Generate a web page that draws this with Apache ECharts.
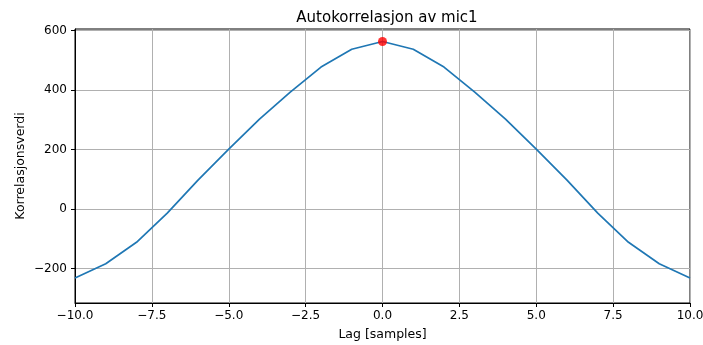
<!DOCTYPE html>
<html>
<head>
<meta charset="utf-8">
<script src="https://cdn.jsdelivr.net/npm/echarts@6/dist/echarts.min.js"></script>
<style>
  html, body { margin: 0; padding: 0; background: #fff; }
  #chart { width: 703px; height: 345px; }
</style>
</head>
<body>
<div id="chart"></div>
<script>
// Autocorrelation of mic1, integer lags -10..10
const lags = [-10, -9, -8, -7, -6, -5, -4, -3, -2, -1, 0, 1, 2, 3, 4, 5, 6, 7, 8, 9, 10];
const corrValues = [-232, -184, -112, -14, 97, 201, 302, 393, 477, 537, 563, 537, 477, 393, 302, 201, 97, -14, -112, -184, -232];
const peakLag = 0;
const peakValue = 563;
const yTicks = [-200, 0, 200, 400, 600];

const FONT = 'DejaVu Sans';
const fmtMinus = (v, d) => {
  const s = Math.abs(v).toFixed(d);
  return (v < 0 ? '\u2212' : '') + s;
};

const chart = echarts.init(document.getElementById('chart'), null, { renderer: 'canvas' });
chart.setOption({
  animation: false,
  backgroundColor: '#fff',
  title: {
    text: 'Autokorrelasjon av mic1',
    left: 382, top: 6, textAlign: 'center',
    textStyle: { fontFamily: FONT, fontSize: 15, fontWeight: 'normal', color: '#000' }
  },
  grid: {
    left: 75, right: 13, top: 29, bottom: 42,
    outerBoundsMode: 'none',
    show: true, borderColor: '#000', borderWidth: 1, backgroundColor: 'transparent'
  },
  xAxis: {
    type: 'value', min: -10, max: 10, interval: 2.5,
    name: 'Lag [samples]', nameLocation: 'middle', nameGap: 25,
    nameMoveOverlap: false,
    nameTextStyle: { fontFamily: FONT, fontSize: 12.5, color: '#000' },
    axisLine: { show: true, onZero: false, lineStyle: { color: '#000', width: 1 } },
    axisTick: { show: true, length: 4, lineStyle: { color: '#000', width: 1 } },
    axisLabel: { fontFamily: FONT, fontSize: 12, color: '#000', margin: 7,
                 formatter: v => fmtMinus(v, 1) },
    splitLine: { show: true, lineStyle: { color: '#b0b0b0', width: 1 } }
  },
  yAxis: {
    type: 'value', min: -316, max: 605,
    name: 'Korrelasjonsverdi', nameLocation: 'middle', nameGap: 48,
    nameMoveOverlap: false,
    nameTextStyle: { fontFamily: FONT, fontSize: 12.5, color: '#000' },
    axisLine: { show: true, onZero: false, lineStyle: { color: '#000', width: 1 } },
    axisTick: { show: true, length: 4, customValues: yTicks, lineStyle: { color: '#000', width: 1 } },
    axisLabel: { fontFamily: FONT, fontSize: 12, color: '#000', margin: 8,
                 customValues: yTicks, formatter: v => fmtMinus(v, 0) },
    splitLine: { show: true, lineStyle: { color: '#b0b0b0', width: 1 } }
  },
  series: [
    {
      type: 'line',
      data: lags.map((l, i) => [l, corrValues[i]]),
      showSymbol: false,
      lineStyle: { color: '#1f77b4', width: 1.7 },
      z: 2
    },
    {
      type: 'scatter',
      data: [[peakLag, peakValue]],
      symbolSize: 9,
      itemStyle: { color: '#ff0000' },
      z: 3
    }
  ]
});
</script>
</body>
</html>
